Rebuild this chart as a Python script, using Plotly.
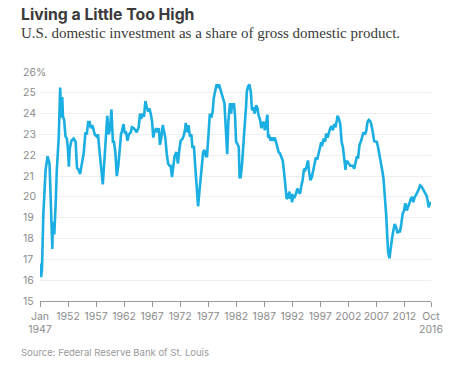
import plotly.graph_objects as go

# decimal year positions and values (% of GDP)
years = [
    1947.05, 1947.2, 1947.35, 1947.6, 1948.0, 1948.35, 1948.7, 1948.95, 1949.2, 1949.3,
    1949.55, 1949.8, 1950.0, 1950.35, 1950.6, 1950.8, 1950.97, 1951.1, 1951.3, 1951.55,
    1951.8, 1952.0, 1952.15, 1952.3, 1952.6, 1953.0, 1953.35, 1953.6, 1953.9, 1954.15,
    1954.4, 1954.8, 1955.1, 1955.35, 1955.6, 1955.85, 1956.07, 1956.3, 1956.5, 1956.75,
    1957.1, 1957.35, 1957.6, 1958.0, 1958.2, 1958.45, 1958.7, 1959.0, 1959.25, 1959.5,
    1959.75, 1960.0, 1960.2, 1960.45, 1960.7, 1960.95, 1961.2, 1961.45, 1961.65, 1961.9,
    1962.1, 1962.35, 1962.6, 1962.85, 1963.2, 1963.4, 1963.75, 1964.0, 1964.25, 1964.6,
    1964.85, 1965.05, 1965.3, 1965.55, 1965.8, 1966.05, 1966.3, 1966.5, 1966.75, 1967.0,
    1967.2, 1967.45, 1967.7, 1967.95, 1968.2, 1968.4, 1968.65, 1968.9, 1969.1, 1969.35,
    1969.6, 1969.85, 1970.1, 1970.3, 1970.55, 1970.8, 1971.0, 1971.35, 1971.6, 1971.85,
    1972.1, 1972.45, 1972.7, 1972.9, 1973.0, 1973.25, 1973.5, 1973.75, 1974.0, 1974.2,
    1974.45, 1974.7, 1974.95, 1975.2, 1975.4, 1975.65, 1975.85, 1976.1, 1976.35, 1976.6,
    1976.8, 1977.05, 1977.3, 1977.55, 1977.8, 1978.0, 1978.25, 1978.5, 1978.75, 1978.95,
    1979.2, 1979.4, 1979.65, 1979.9, 1980.1, 1980.4, 1980.6, 1980.9, 1981.1, 1981.27,
    1981.45, 1981.6, 1981.8, 1981.98, 1982.2, 1982.46, 1982.6, 1982.8, 1983.05, 1983.3,
    1983.53, 1983.75, 1983.9, 1984.1, 1984.36, 1984.6, 1984.83, 1985.05, 1985.3, 1985.55,
    1985.8, 1986.0, 1986.26, 1986.5, 1986.73, 1986.95, 1987.1, 1987.35, 1987.56, 1987.7,
    1987.92, 1988.15, 1988.4, 1988.63, 1988.87, 1989.1, 1989.34, 1989.57, 1989.8, 1990.05,
    1990.3, 1990.5, 1990.76, 1991.0, 1991.25, 1991.5, 1991.62, 1991.83, 1991.95, 1992.2,
    1992.43, 1992.66, 1992.9, 1993.14, 1993.37, 1993.6, 1993.85, 1994.1, 1994.33, 1994.56,
    1994.8, 1995.0, 1995.25, 1995.5, 1995.75, 1995.98, 1996.22, 1996.46, 1996.7, 1996.93,
    1997.1, 1997.35, 1997.6, 1997.85, 1998.07, 1998.3, 1998.54, 1998.77, 1999.0, 1999.25,
    1999.49, 1999.72, 1999.96, 2000.08, 2000.32, 2000.56, 2000.8, 2001.03, 2001.27, 2001.5,
    2001.62, 2001.86, 2002.1, 2002.33, 2002.57, 2002.8, 2003.05, 2003.28, 2003.5, 2003.75,
    2004.0, 2004.23, 2004.47, 2004.7, 2004.95, 2005.18, 2005.42, 2005.66, 2005.9, 2006.13,
    2006.37, 2006.6, 2006.84, 2007.07, 2007.3, 2007.55, 2007.8, 2008.03, 2008.27, 2008.5,
    2008.74, 2008.92, 2009.1, 2009.34, 2009.57, 2009.8, 2010.04, 2010.28, 2010.52, 2010.76,
    2011.0, 2011.2, 2011.45, 2011.7, 2011.94, 2012.18, 2012.42, 2012.66, 2012.9, 2013.13,
    2013.37, 2013.6, 2013.84, 2014.08, 2014.31, 2014.55, 2014.79, 2015.03, 2015.27, 2015.5,
    2015.74, 2015.98, 2016.2, 2016.33, 2016.5, 2016.75,
]

investment_share = [
    16.8, 16.15, 16.5, 19.2, 21.3, 21.95, 21.6, 19.7, 17.5, 18.8,
    18.2, 19.7, 21.3, 22.9, 25.25, 23.8, 24.8, 23.85, 23.7, 22.9,
    22.8, 22.25, 21.45, 22.3, 22.7, 22.8, 22.65, 21.4, 21.3, 21.1,
    21.45, 22.1, 23.1, 23.0, 23.6, 23.6, 23.3, 23.45, 23.3, 23.0,
    22.9, 23.0, 22.25, 21.1, 20.6, 21.6, 22.9, 23.9, 23.0, 23.3,
    24.2, 22.65, 22.65, 22.1, 21.0, 21.45, 22.2, 23.0, 23.2, 23.5,
    23.1, 23.1, 22.7, 23.0, 23.1, 23.35, 23.3, 23.2, 23.1, 23.35,
    24.0, 23.75, 24.0, 23.85, 24.6, 24.3, 24.1, 24.25, 24.0, 23.6,
    22.85, 23.15, 23.3, 23.1, 23.3, 22.5, 22.85, 23.45, 23.1, 22.85,
    22.1, 21.6, 21.5, 21.5, 20.95, 21.6, 21.95, 22.15, 21.6, 22.25,
    22.7, 22.8, 23.0, 23.3, 23.55, 23.1, 23.45, 22.9, 23.0, 22.35,
    22.45, 21.45, 20.3, 19.55, 20.15, 20.8, 21.3, 22.15, 22.25, 21.95,
    21.95, 23.15, 24.0, 23.8, 24.1, 24.75, 25.15, 25.4, 25.3, 25.4,
    25.15, 24.95, 24.8, 24.5, 23.5, 22.05, 23.65, 24.5, 24.0, 24.5,
    24.3, 24.5, 23.85, 22.65, 22.55, 22.4, 20.95, 20.95, 21.6, 22.4,
    23.5, 24.3, 25.05, 25.3, 25.4, 25.05, 24.15, 24.3, 24.0, 24.4,
    24.25, 23.9, 23.7, 23.3, 23.55, 23.6, 23.2, 23.55, 23.95, 22.85,
    22.9, 22.7, 22.85, 22.7, 22.85, 22.65, 22.3, 22.15, 22.1, 21.9,
    21.75, 21.3, 20.5, 19.9, 20.0, 20.25, 19.9, 20.15, 19.75, 20.05,
    20.0, 20.15, 20.4, 20.3, 20.15, 20.5, 20.8, 21.35, 21.3, 21.45,
    21.75, 21.2, 20.8, 20.95, 21.3, 21.5, 21.9, 21.8, 22.05, 22.4,
    22.55, 22.5, 22.8, 22.65, 23.05, 22.85, 23.1, 23.3, 23.4, 23.2,
    23.5, 23.35, 23.7, 23.9, 23.75, 23.5, 22.65, 22.4, 21.85, 21.3,
    21.7, 21.7, 21.6, 21.5, 21.5, 21.5, 21.35, 21.6, 21.9, 21.9,
    22.5, 22.65, 22.85, 23.1, 23.0, 23.15, 23.6, 23.7, 23.65, 23.45,
    23.1, 22.7, 22.65, 22.65, 22.4, 21.95, 21.6, 21.3, 20.9, 20.15,
    19.2, 18.25, 17.35, 17.05, 17.6, 18.0, 18.4, 18.7, 18.55, 18.25,
    18.4, 18.3, 18.7, 19.2, 19.35, 19.7, 19.35, 19.5, 19.7, 19.9,
    20.0, 19.75, 20.0, 20.1, 20.2, 20.35, 20.55, 20.5, 20.4, 20.3,
    20.15, 20.05, 19.75, 19.5, 19.65, 19.75,
]

x_tick_vals = [1947, 1952, 1957, 1962, 1967, 1972, 1977, 1982, 1987, 1992,
               1997, 2002, 2007, 2012, 2016.75]
x_tick_text = ["Jan<br>1947", "1952", "1957", "1962", "1967", "1972", "1977", "1982",
               "1987", "1992", "1997", "2002", "2007", "2012", "Oct<br>2016"]
y_tick_vals = [26, 25, 24, 23, 22, 21, 20, 19, 18, 17, 16, 15]
y_tick_text = ["26%", "25", "24", "23", "22", "21", "20", "19", "18", "17", "16", "15"]

title_text = "Living a Little Too High"
subtitle_text = "U.S. domestic investment as a share of gross domestic product."
source_text = "Source: Federal Reserve Bank of St. Louis"

W, H = 472, 373
ML, MR, MT, MB = 40, 41, 72, 72
label_color = "#8c8c8c"
sans = "Inter, Roboto, 'Open Sans', sans-serif"

plot_w = W - ML - MR
plot_h = H - MT - MB


def px_x(px):
    return (px - ML) / plot_w


def px_y(py):
    return (H - MB - py) / plot_h


fig = go.Figure()
fig.add_trace(go.Scatter(
    x=years, y=investment_share, mode="lines",
    line=dict(color="#1aaee2", width=2.6),
    hoverinfo="skip", showlegend=False,
))

for v, t in zip(y_tick_vals, y_tick_text):
    fig.add_annotation(
        text=t, x=px_x(21), xref="paper", xanchor="left",
        y=v, yref="y", yanchor="middle", showarrow=False,
        font=dict(family=sans, size=10.5, color=label_color),
    )

fig.add_annotation(
    text="<b>" + title_text + "</b>", x=px_x(19), xref="paper", xanchor="left",
    y=px_y(15), yref="paper", yanchor="middle", showarrow=False,
    font=dict(family=sans, size=15.8, color="#3a3a3a"),
)
fig.add_annotation(
    text=subtitle_text, x=px_x(19), xref="paper", xanchor="left",
    y=px_y(33), yref="paper", yanchor="middle", showarrow=False,
    font=dict(family="'Liberation Serif', 'DejaVu Serif', serif", size=15, color="#3a3a3a"),
)
fig.add_annotation(
    text=source_text, x=px_x(19), xref="paper", xanchor="left",
    y=px_y(352), yref="paper", yanchor="middle", showarrow=False,
    font=dict(family=sans, size=9.5, color="#9a9a9a"),
)

fig.update_layout(
    width=W, height=H,
    margin=dict(l=ML, r=MR, t=MT, b=MB, pad=0),
    paper_bgcolor="white", plot_bgcolor="white",
    xaxis=dict(
        range=[1947, 2016.75], tickvals=x_tick_vals, ticktext=x_tick_text,
        showgrid=False, zeroline=False, showline=True, linecolor="#9a9a9a", linewidth=1,
        ticks="outside", ticklen=5, tickcolor="#9a9a9a", tickwidth=1,
        tickfont=dict(family=sans, size=10.5, color=label_color),
    ),
    yaxis=dict(
        range=[15, 26], tickvals=y_tick_vals, showticklabels=False,
        showgrid=True, gridcolor="#efefef", gridwidth=1, zeroline=False,
        showline=False, ticks="",
    ),
)

fig.write_html(
    "out.html",
    config={"displayModeBar": False, "staticPlot": True},
    post_script="document.body.style.margin='0';document.body.style.overflow='hidden';",
)
